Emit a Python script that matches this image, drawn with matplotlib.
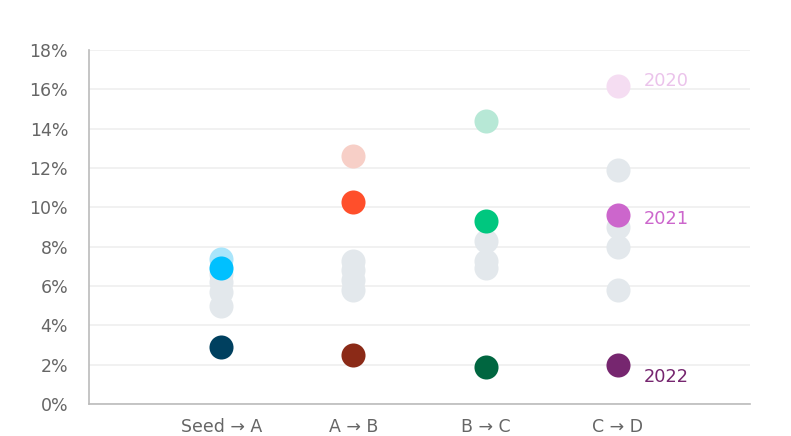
import matplotlib.pyplot as plt
from matplotlib.ticker import PercentFormatter

plt.rcParams['font.family'] = ['DejaVu Sans']

stages = ["Seed \u2192 A", "A \u2192 B", "B \u2192 C", "C \u2192 D"]

# highlighted years, % per stage
rate_2020 = [7.4, 12.6, 14.4, 16.2]
rate_2021 = [6.9, 10.3, 9.3, 9.6]
rate_2022 = [2.9, 2.5, 1.9, 2.0]

# other years (grey background dots)
other_rates = [
    [6.6, 6.2, 5.7, 5.0],
    [7.3, 6.8, 6.3, 5.8],
    [8.3, 7.3, 6.9],
    [11.9, 9.0, 8.0, 5.8],
]

colors_2020 = ["#A9E5FB", "#F7CFC7", "#B7E8D6", "#F5DDF2"]
colors_2021 = ["#00C0FF", "#FF4F2B", "#00C77F", "#CC66CC"]
colors_2022 = ["#00405F", "#8B2A17", "#006640", "#76266F"]
grey = "#E3E8EC"

fig, ax = plt.subplots(figsize=(7.91, 4.36), dpi=100)
fig.subplots_adjust(left=0.1125, right=0.948, top=0.885, bottom=0.073)

size = 300
for i, vals in enumerate(other_rates):
    ax.scatter([i] * len(vals), vals, s=size, color=grey, zorder=2, linewidths=0)
for i in range(len(stages)):
    ax.scatter(i, rate_2020[i], s=size, color=colors_2020[i], zorder=3, linewidths=0)
    ax.scatter(i, rate_2022[i], s=size, color=colors_2022[i], zorder=3, linewidths=0)
    ax.scatter(i, rate_2021[i], s=size, color=colors_2021[i], zorder=4, linewidths=0)

# year labels next to the last stage
last = len(stages) - 1
ax.text(last + 0.2, rate_2020[last] + 0.25, "2020", color="#EBC3EB", fontsize=12.8, va="center")
ax.text(last + 0.2, rate_2021[last] - 0.2, "2021", color="#CC66CC", fontsize=12.8, va="center")
ax.text(last + 0.2, rate_2022[last] - 0.6, "2022", color="#76266F", fontsize=12.8, va="center")

ax.set_xlim(-1, 4)
ax.set_ylim(0, 18)
ax.set_yticks(range(0, 19, 2))
ax.yaxis.set_major_formatter(PercentFormatter(decimals=0))
ax.set_xticks(range(len(stages)))
ax.set_xticklabels(stages)
ax.tick_params(axis='both', length=0, labelsize=12.5, labelcolor="#666666")
ax.tick_params(axis='x', pad=10)
ax.tick_params(axis='y', pad=15)

ax.grid(axis='y', color="#EFEFEF", linewidth=1.2, zorder=0)
ax.set_axisbelow(True)
for side in ['top', 'right']:
    ax.spines[side].set_visible(False)
for side in ['left', 'bottom']:
    ax.spines[side].set_color("#BBBBBB")
    ax.spines[side].set_linewidth(1.2)

plt.savefig("out.png", dpi=100)
